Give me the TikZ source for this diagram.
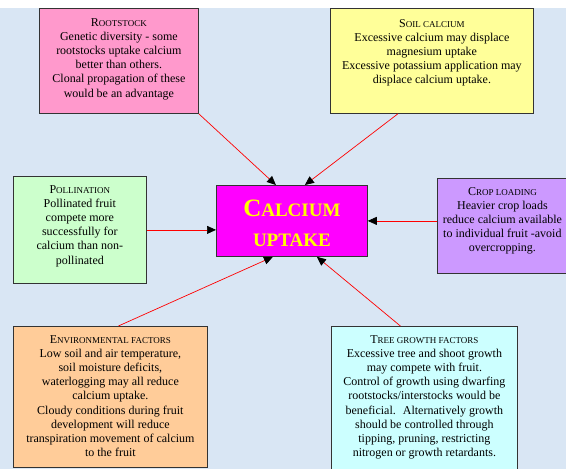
\documentclass[tikz,border=0pt]{standalone}
\usepackage{fontspec}
\setmainfont{Liberation Serif}
\usetikzlibrary{arrows.meta,calc}
\definecolor{bgblue}{HTML}{D9E6F4}
\definecolor{pinkbox}{HTML}{FF99CC}
\definecolor{yellowbox}{HTML}{FFFF99}
\definecolor{greenbox}{HTML}{CCFFCC}
\definecolor{purplebox}{HTML}{CC99FF}
\definecolor{orangebox}{HTML}{FFCC99}
\definecolor{cyanbox}{HTML}{CCFFFF}
\definecolor{magentabox}{HTML}{FF00FF}
\definecolor{titleyellow}{HTML}{FFFF00}
\definecolor{edgegray}{HTML}{333333}
\newcommand\boxtitle[2]{{\fontsize{12}{14.2}\selectfont #1}{\fontsize{9}{14.2}\selectfont #2}}
\begin{document}
\begin{tikzpicture}[x=1pt,y=-1pt,
  box/.style={draw=edgegray, line width=0.8pt, inner sep=0pt, anchor=north west},
  txt/.style={anchor=north, align=center, inner sep=0pt, text=black, font=\fontsize{12}{14.2}\selectfont},
  arr/.style={draw=red, line width=0.7pt, -{Triangle[length=9pt,width=8pt,color=black]}}]
\useasboundingbox (0,0) rectangle (566,469);
\clip (0,0) rectangle (566,469);
\fill[white] (0,0) rectangle (566,8);
\fill[bgblue] (0,8) rectangle (566,469);
% boxes
\node[box, fill=pinkbox, minimum width=159pt, minimum height=105pt] (root) at (39,8) {};
\node[box, fill=yellowbox, minimum width=203pt, minimum height=105pt] (soil) at (330,8) {};
\node[box, fill=greenbox, minimum width=133pt, minimum height=107pt] (poll) at (13,176) {};
\node[box, fill=magentabox, minimum width=151pt, minimum height=71pt] (cal) at (216,185) {};
\node[box, fill=purplebox, minimum width=130pt, minimum height=95pt] (crop) at (437,178) {};
\node[box, fill=orangebox, minimum width=194pt, minimum height=141pt] (env) at (13,326) {};
\node[box, fill=cyanbox, minimum width=186pt, minimum height=150pt] (tree) at (331,326) {};
% texts
\node[txt] (roottxt) at ($(root.north)+(0,10)$) {\boxtitle{R}{OOTSTOCK}\\Genetic diversity - some\\rootstocks uptake calcium\\better than others.\\Clonal propagation of these\\would be an advantage};
\node[txt] (soiltxt) at ($(soil.north)+(0,11)$) {\boxtitle{S}{OIL CALCIUM}\\Excessive calcium may displace\\magnesium uptake\\Excessive potassium application may\\displace calcium uptake.};
\node[txt] (polltxt) at ($(poll.north)+(0,9)$) {\boxtitle{P}{OLLINATION}\\Pollinated fruit\\compete more\\successfully for\\calcium than non-\\pollinated};
\node[txt] (croptxt) at ($(crop.north)+(0,9)$) {\boxtitle{C}{ROP LOADING}\\Heavier crop loads\\reduce calcium available\\to individual fruit -avoid\\overcropping.};
\node[txt] (envtxt) at ($(env.north)+(0,9)$) {\boxtitle{E}{NVIRONMENTAL FACTORS}\\Low soil and air temperature,\\soil moisture deficits,\\waterlogging may all reduce\\calcium uptake.\\Cloudy conditions during fruit\\development will reduce\\transpiration movement of calcium\\to the fruit};
\node[txt] (treetxt) at ($(tree.north)+(0,9)$) {\boxtitle{T}{REE GROWTH FACTORS}\\Excessive tree and shoot growth\\may compete with fruit.\\Control of growth using dwarfing\\rootstocks/interstocks would be\\beneficial.~ Alternatively growth\\should be controlled through\\tipping, pruning, restricting\\nitrogen or growth retardants.};
\node[anchor=center, align=center, inner sep=0pt, text=titleyellow, font=\bfseries\fontsize{19}{30}\selectfont] (caltxt) at ($(cal.center)+(0,2)$) {{\fontsize{25}{30}\selectfont C}ALCIUM\\UPTAKE};
% connectors
\draw[arr] (root.south east) -- ($(cal.north)+(-16,0)$);
\draw[arr] ($(soil.south)+(-34,0)$) -- ($(cal.north)+(13,0)$);
\draw[arr] (poll.east) -- (poll.east -| cal.west);
\draw[arr] (crop.west |- cal.east) -- (cal.east);
\draw[arr] ($(env.north)+(8,0)$) -- ($(cal.south)+(-19,0)$);
\draw[arr] ($(tree.north)+(-24,0)$) -- ($(cal.south)+(25,0)$);
\end{tikzpicture}
\end{document}
